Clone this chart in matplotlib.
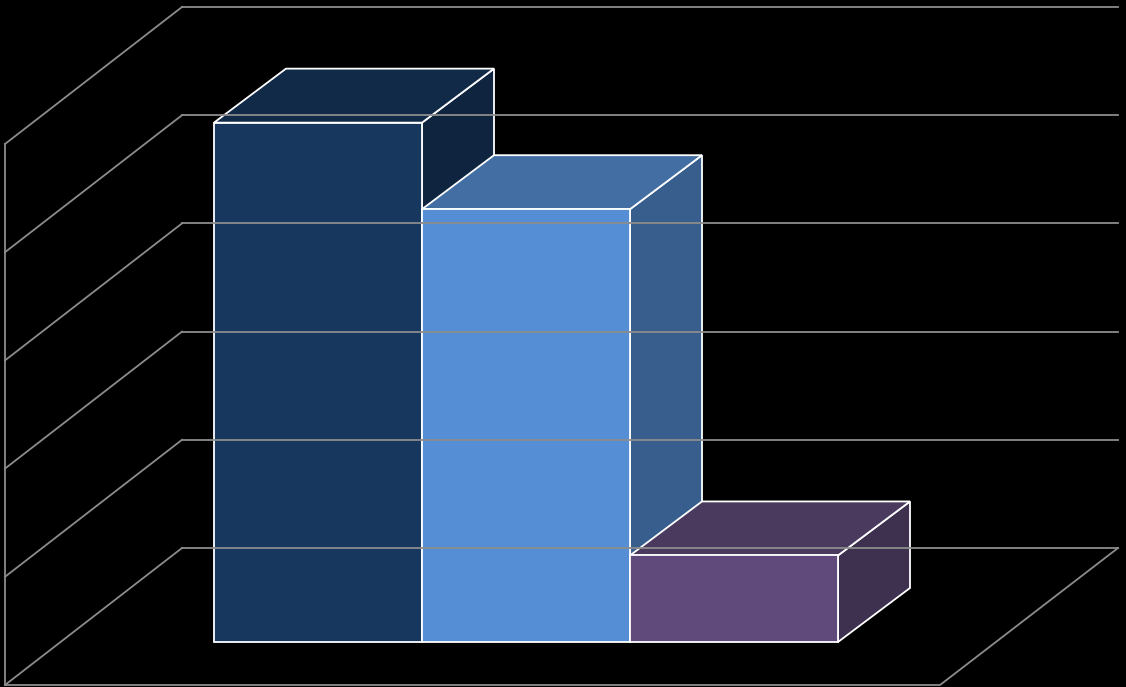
import matplotlib
matplotlib.use("Agg")
import matplotlib.pyplot as plt
from matplotlib.patches import Polygon

categories = ["A", "B", "C"]
values = [4.8, 4.0, 0.8]
front_colors = ["#17375e", "#558ed5", "#604a7b"]
top_colors = ["#112a47", "#426ea4", "#4a3a5e"]
side_colors = ["#0f243e", "#375e8c", "#3e304f"]
grid_levels = [0, 1, 2, 3, 4, 5]

fig = plt.figure(figsize=(11.26, 6.87), dpi=100, facecolor="black")
ax = fig.add_axes([0, 0, 1, 1])
ax.set_facecolor("black")
ax.set_xlim(0, 1126)
ax.set_ylim(687, 0)
ax.axis("off")

unit = 108.2
wall_back = 548
ddx, ddy = 177, -137
gc = "#8c8c8c"
for g in grid_levels:
    yb = wall_back - g * unit
    ax.plot([5, 5 + ddx], [yb - ddy, yb], color=gc, lw=1.3)
    ax.plot([182, 1118], [yb, yb], color=gc, lw=1.3)
ax.plot([5, 5], [wall_back - 5 * unit - ddy, 685], color=gc, lw=1.3)
ax.plot([5, 940, 1118], [685, 685, 548], color=gc, lw=1.3)

x0, w, base = 214, 208, 642
bdx, bdy = 72, -54
for i, v in enumerate(values):
    xl = x0 + i * w
    xr = xl + w
    yt = base - v * unit
    ec = dict(edgecolor="white", lw=1.3)
    ax.add_patch(Polygon([(xr, base), (xr + bdx, base + bdy), (xr + bdx, yt + bdy), (xr, yt)],
                         facecolor=side_colors[i], **ec))
    ax.add_patch(Polygon([(xl, yt), (xr, yt), (xr + bdx, yt + bdy), (xl + bdx, yt + bdy)],
                         facecolor=top_colors[i], **ec))
    ax.add_patch(Polygon([(xl, base), (xr, base), (xr, yt), (xl, yt)],
                         facecolor=front_colors[i], **ec))

fig.savefig("out.png", dpi=100, facecolor="black")
